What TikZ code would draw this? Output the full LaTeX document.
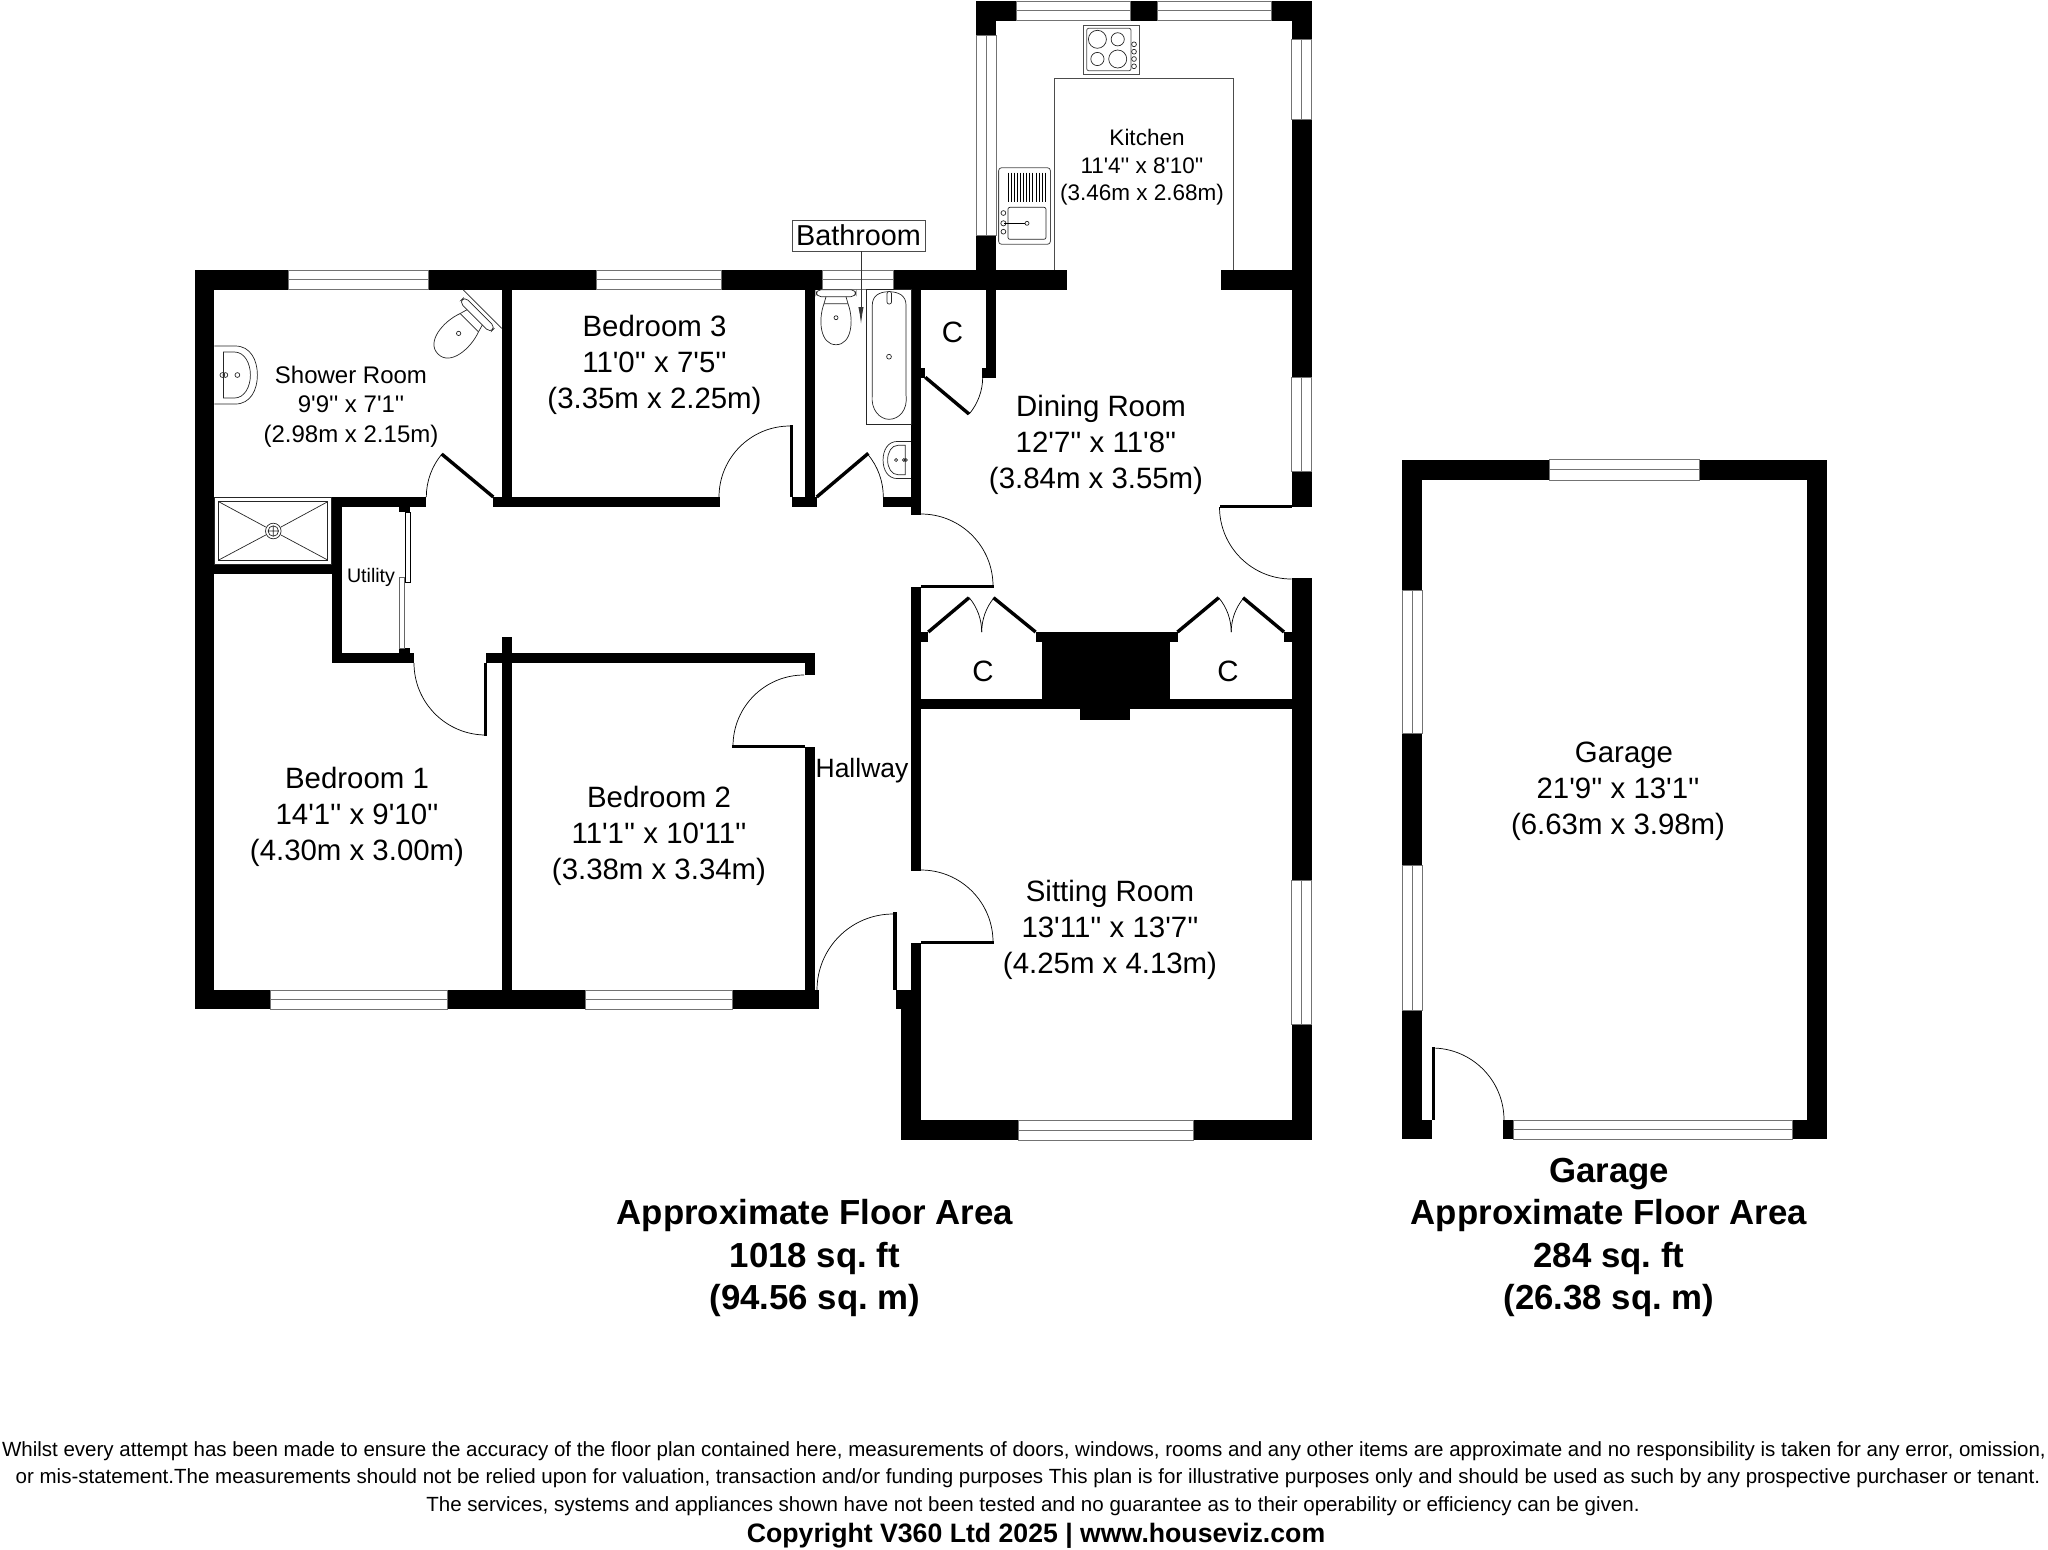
\documentclass[tikz,border=0pt]{standalone}
\usepackage{fontspec}
\newfontfamily\planfont{Liberation Sans}
\usetikzlibrary{arrows.meta}

% shared fixtures, drawn from the wall side
\newcommand{\toiletsym}{%
  \draw[fixture,fill=white,rounded corners=2.5pt] (-20,0) rectangle (20,7);
  \draw[fixture] (-10,7) -- (-12,14) (10,7) -- (12,14);
  \draw[fixture,fill=white] (-12,14) -- (12,14) .. controls (18,30) and (16,55) .. (0,55)
    .. controls (-16,55) and (-18,30) .. (-12,14) -- cycle;
  \draw[fixture] (0,28) circle [radius=1pt];
}
\newcommand{\basinsym}{%
  \draw[fixture] (0,-29) -- (21,-29) .. controls (36,-29) and (43,-15) .. (43,0)
    .. controls (43,15) and (36,29) .. (21,29) -- (0,29);
  \draw[fixture] (9,-23) -- (20,-23) .. controls (30,-23) and (36,-12) .. (36,0)
    .. controls (36,12) and (30,23) .. (20,23) -- (9,23) -- cycle;
  \draw[fixture] (8,0) circle [radius=1.2pt] (11,0) circle [radius=1.2pt] (23,0) circle [radius=1.2pt];
}

\begin{document}
\planfont\frenchspacing
\begin{tikzpicture}[x=.5pt,y=-.5pt,
    wallfill/.style={fill=black},
    windowpane/.style={draw=black!55,fill=white,line width=.45pt},
    doorswing/.style={line width=.35pt},
    doorleaf/.style={line width=1.7pt},
    fixture/.style={line width=.35pt,draw=black!85},
    counter/.style={line width=.4pt,draw=black!70},
    roomlabel/.style={align=center,inner sep=0pt,font=\fontsize{14.7}{17.9}\selectfont},
    arealabel/.style={align=center,inner sep=0pt,font=\bfseries\fontsize{17.4}{21.2}\selectfont}]
  \useasboundingbox (0,0) rectangle (2048,1549);

  % walls
  \foreach \xa/\ya/\xb/\yb in {195/270/1067/289.5, 1220.6/270/1311.6/289.5,
    195/270/214.4/1009, 195/990/818.6/1009,
    501.7/289/511.7/497, 332.3/497/426/506.7, 493.3/497/720/506.7, 791.5/497/816.8/506.7, 883.3/497/911/506.7,
    332.3/497/342.3/663.3, 332.3/653.3/414.3/663.3, 214/564.3/332.3/574,
    399.3/506/410/512.3, 399.3/648.3/410/654,
    804.6/289/814.8/506, 911/289/921/515, 986/289/996/377.7, 981.7/367.7/996/377.7, 921/367.7/925.3/377.7,
    501.9/637.3/512/990, 486/653.3/814.8/663.3, 804.6/653.3/814.8/675, 804.6/746.7/814.8/990,
    911/586.7/921/870.7, 911/942.7/921/990, 895.8/990/921/1009, 901/1009/921/1140, 901/1120/1311.6/1140,
    921/699.3/1291.5/709.3, 1079.8/709/1130.3/720, 1042/640/1170.3/700, 1035.6/632.3/1177.5/642.3,
    921/632.3/928.3/642.3, 1284/632.3/1291.5/642.3,
    976.4/1/1311.6/20.7, 976.4/1/996/35, 976.4/235/996/272, 1291.6/1/1311.6/39.3, 1291.6/119.3/1311.6/377.3,
    1291.5/471/1311.6/507, 1291.5/578.3/1311.6/880, 1291.5/1024/1311.6/1140,
    1402.3/459.7/1826.7/480, 1402.3/459.7/1422.3/1139.3, 1806.7/459.7/1826.7/1139.3,
    1402.3/1120.4/1431.7/1139.3, 1503.3/1120.4/1826.7/1139.3}
    \fill[wallfill] (\xa,\ya) rectangle (\xb,\yb);

  % windows across horizontal walls
  \foreach \xa/\xb/\ya/\yb in {288.3/428.3/270/289.5, 596/721/270/289.5, 822/893.6/270/289.5,
    270.6/447.9/990/1009, 585/732.7/990/1009, 1016/1130/1/20.7, 1157.7/1271.6/1/20.7,
    1018.6/1193/1120/1140, 1549/1699/459.7/480, 1513.7/1792/1120.4/1139.3}
    \draw[windowpane] (\xa,\ya) rectangle (\xb,\yb)
      (\xa,{(\ya+\yb)/2}) -- (\xb,{(\ya+\yb)/2});
  % windows across vertical walls
  \foreach \xa/\xb/\ya/\yb in {976.4/996/35/235, 1291.6/1311.6/39.3/119.3, 1291.6/1311.6/377.3/471,
    1291.6/1311.6/880/1024, 1402.3/1422.3/590/733.8, 1402.3/1422.3/865.6/1010.2}
    \draw[windowpane] (\xa,\ya) rectangle (\xb,\yb)
      ({(\xa+\xb)/2},\ya) -- ({(\xa+\xb)/2},\yb);

  % sliding doors of the utility
  \draw[line width=.5pt,fill=white] (405.3,512.3) rectangle (410,582.3);
  \draw[line width=.5pt,draw=black!60,fill=white] (399.3,577.7) rectangle (404,648.3);

  % door swings
  \foreach \xa/\ya/\sa/\ea/\rr in {426.3/497/180/140/33.5, 719/497/180/90/35.5, 883.3/497/0/40/33.3,
    921/514/90/0/36, 1219.5/507/180/270/36, 982.7/377/0/-40/28.7,
    981.7/632/0/40/26.7, 981.7/632/180/140/26.9, 1231.2/632/0/40/26.7, 1231.2/632/180/140/26.4,
    733/746/180/90/35.5, 414/663/180/270/36, 921/870/90/0/36, 817/990/180/90/38, 1504/1120/0/90/36}
    \draw[doorswing] (\xa,\ya) arc [start angle=\sa,end angle=\ea,radius=\rr pt];

  % door leaves
  \draw[doorleaf] (493.3,497) -- (441.7,454);
  \draw[doorleaf] (816.7,497) -- (868.3,453.3);
  \draw[doorleaf] (925.3,377.3) -- (969,414);
  \draw[doorleaf] (928.3,632) -- (969,597.7);
  \draw[doorleaf] (1035.6,632) -- (993.5,597.7);
  \draw[doorleaf] (1177.5,632) -- (1218.7,597.7);
  \draw[doorleaf] (1284,632) -- (1243,597.7);
  \fill[wallfill] (790,425) rectangle (793,497);
  \fill[wallfill] (921,584.5) rectangle (993.5,587.5);
  \fill[wallfill] (1219.6,505) rectangle (1291.5,508);
  \fill[wallfill] (732,745) rectangle (804.6,748);
  \fill[wallfill] (483.6,663) rectangle (487,735.7);
  \fill[wallfill] (921,940.5) rectangle (993.8,943.5);
  \fill[wallfill] (892.8,912) rectangle (896.5,990);
  \fill[wallfill] (1431.7,1047.4) rectangle (1434.7,1120.4);

  % shower room fittings
  \begin{scope}[shift={(214.4,375)}]
    \basinsym
  \end{scope}
  \draw[fixture] (463.3,290) -- (501.7,328.3);
  \begin{scope}[shift={(480,312)},rotate=-45,scale=1.08]
    \toiletsym
  \end{scope}
  \draw[fixture] (214.4,497.3) rectangle (331.7,564);
  \draw[fixture] (218.7,501.7) rectangle (327.7,560);
  \draw[fixture] (218.7,501.7) -- (265.7,527) (327.7,501.7) -- (281,527)
    (218.7,560) -- (265.7,535) (327.7,560) -- (281,535);
  \draw[fixture,fill=white] (273.3,531) circle [radius=3.9pt];
  \draw[fixture] (273.3,531) circle [radius=2.6pt] (268.2,531) -- (278.4,531) (273.3,526) -- (273.3,536);

  % bathroom fittings
  \begin{scope}[shift={(836,289.7)}]
    \toiletsym
  \end{scope}
  \draw[fixture] (866.7,289.7) rectangle (911,424.3);
  \draw[fixture] (889,291.7) .. controls (879,291.7) and (872.3,296) .. (872.3,305) -- (872.3,395)
    .. controls (870.5,410) and (880,419.3) .. (889,419.3) .. controls (899,419.3) and (908,410) .. (906,395)
    -- (906,305) .. controls (906,296) and (899,291.7) .. (889,291.7) -- cycle;
  \draw[fixture,fill=white,rounded corners=1pt] (887,291.5) rectangle (891.5,304);
  \draw[fixture] (889,356.7) circle [radius=1.2pt];
  \begin{scope}[shift={(911,460)},xscale=-.65,yscale=.64]
    \basinsym
  \end{scope}

  % kitchen fittings
  \draw[counter] (1054,269.5) -- (1054,78.3) -- (1233.5,78.3) -- (1233.5,269.5);
  \draw[counter] (1083,25) rectangle (1139.2,74.3);
  \draw[counter,rounded corners=1pt] (1086.7,28.3) rectangle (1131,70.7);
  \draw[fixture] (1097.4,39.3) circle [radius=4.5pt] (1117.7,39.3) circle [radius=3.3pt]
    (1097.4,59) circle [radius=3.3pt] (1117.7,59) circle [radius=4.5pt];
  \foreach \yk in {44.3,51.7,59,66.3}
    \draw[fixture] (1134,\yk) circle [radius=1.2pt];
  \draw[counter,fill=white,rounded corners=1.5pt] (998.6,167.7) rectangle (1050.4,244.3);
  \foreach \xk in {1008,1011.1,...,1046}
    \draw[line width=.4pt] (\xk,172.7) -- (\xk,201.7);
  \draw[fixture,rounded corners=1pt] (1007.9,207.3) rectangle (1046,239.3);
  \draw[fixture] (1003.4,213) circle [radius=1.2pt] (1003.4,223.3) circle [radius=1.3pt]
    (1003.4,231.7) circle [radius=1.2pt] (1027,223.3) circle [radius=1pt];
  \draw[line width=.6pt] (1004,223.3) -- (1025,223.3);

  % room labels
  \node[roomlabel,font=\fontsize{12}{14.8}\selectfont] (shower) at (351,406.5) {Shower Room\\9'9'' x 7'1''\\(2.98m x 2.15m)};
  \node[roomlabel] (bedthree) at (654.5,365) {Bedroom 3\\11'0'' x 7'5''\\(3.35m x 2.25m)};
  \node[roomlabel,font=\fontsize{11.25}{13.8}\selectfont] (kitchen) at (1142,167.5) {\hspace*{5pt}Kitchen\\11'4'' x 8'10''\\(3.46m x 2.68m)};
  \node[roomlabel] (dining) at (1096,445) {\hspace*{5pt}Dining Room\\12'7'' x 11'8''\\(3.84m x 3.55m)};
  \node[roomlabel] (bedone) at (357,817) {Bedroom 1\\14'1'' x 9'10''\\(4.30m x 3.00m)};
  \node[roomlabel] (bedtwo) at (659,836) {Bedroom 2\\11'1'' x 10'11''\\(3.38m x 3.34m)};
  \node[roomlabel] (sitting) at (1110,930) {Sitting Room\\13'11'' x 13'7''\\(4.25m x 4.13m)};
  \node[roomlabel] (garage) at (1618,791.5) {\hspace*{6pt}Garage\\21'9'' x 13'1''\\(6.63m x 3.98m)};
  \node[roomlabel,font=\fontsize{13.25}{16}\selectfont] (hallway) at (862,771) {Hallway};
  \node[roomlabel,font=\fontsize{9.8}{12}\selectfont] (utility) at (371,577) {Utility};
  \node[roomlabel] (cupa) at (952.4,332) {C};
  \node[roomlabel] (cupb) at (983,671) {C};
  \node[roomlabel] (cupc) at (1228,671) {C};

  % bathroom label with its pointer
  \node[draw=black!70,line width=.4pt,fill=white,minimum width=66.5pt,minimum height=15.5pt,inner sep=0pt,
    font=\fontsize{14.4}{17}\selectfont] (bathroom) at (858.5,235.5) {\raisebox{-.7pt}{Bathroom}};
  \coordinate (bathpoint) at (861,324);
  \draw[draw=black!80,line width=.4pt,-{Latex[length=8.5pt,width=2.6pt]}] (bathroom.south -| bathpoint) -- (bathpoint);

  % floor areas and small print
  \node[arealabel] (mainarea) at (815,1258) {Approximate Floor Area\\1018 sq. ft\\(94.56 sq. m)};
  \node[arealabel] (garagearea) at (1609,1237.5) {Garage\\Approximate Floor Area\\284 sq. ft\\(26.38 sq. m)};
  \node[align=center,inner sep=0pt,font=\fontsize{10.26}{13.8}\selectfont] (smallprint) at (1024,1478.5) {Whilst every attempt has been made to ensure the accuracy of the floor plan contained here, measurements of doors, windows, rooms and any other items are approximate and no responsibility is taken for any error, omission,\\\hspace*{4pt}or mis-statement.The measurements should not be relied upon for valuation, transaction and/or funding purposes This plan is for illustrative purposes only and should be used as such by any prospective purchaser or tenant.\\\hspace*{9pt}The services, systems and appliances shown have not been tested and no guarantee as to their operability or efficiency can be given.};
  \node[inner sep=0pt,font=\bfseries\fontsize{13.33}{16}\selectfont] (copyright) at (1036,1536) {Copyright V360 Ltd 2025 | www.houseviz.com};
\end{tikzpicture}
\end{document}
